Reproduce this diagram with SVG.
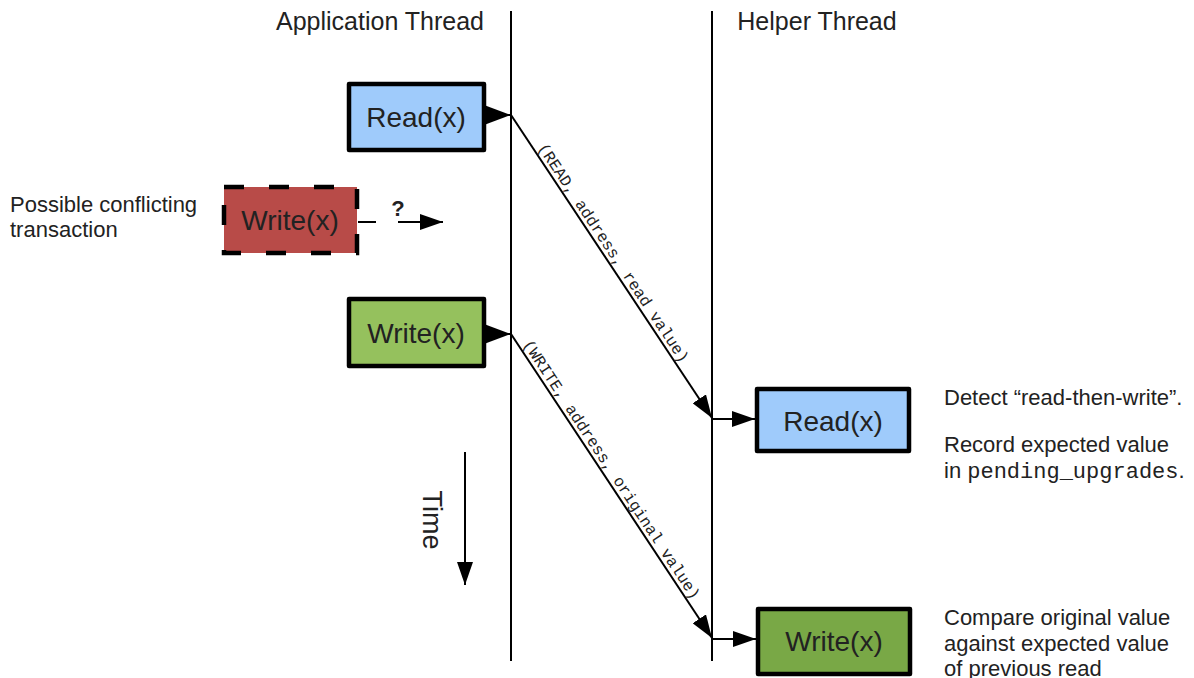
<svg xmlns="http://www.w3.org/2000/svg" width="1194" height="678" viewBox="0 0 1194 678">
  <style>
    .box { stroke: #000; stroke-width: 4.5; stroke-linejoin: round; }
    .read { fill: #9fcbfb; }
    .write { fill: #95c15d; }
    .write2 { fill: #79a846; }
    .conflict { fill: #b84b48; stroke: #000; stroke-width: 4.5; stroke-dasharray: 20 25; }
    .lbl { font-family: "Liberation Sans", Arial, sans-serif; fill: #222; }
    .boxlbl { font-size: 28px; text-anchor: middle; }
    .head { font-size: 25px; text-anchor: middle; }
    .note { font-size: 22px; }
    .mono { font-family: "Liberation Mono", "Courier New", monospace; }
    .msg { font-family: "Liberation Mono", "Courier New", monospace; font-size: 16px; fill: #222; }
    .wire { stroke: #000; stroke-width: 2; fill: none; }
  </style>
  <defs>
    <marker id="bigHead" markerUnits="userSpaceOnUse" markerWidth="27" markerHeight="20" refX="27" refY="10" orient="auto">
      <path d="M0,0 L27,10 L0,20 z" fill="#000"/>
    </marker>
    <marker id="head" markerUnits="userSpaceOnUse" markerWidth="23" markerHeight="16" refX="23" refY="8" orient="auto">
      <path d="M0,0 L23,8 L0,16 z" fill="#000"/>
    </marker>
  </defs>

  <rect width="1194" height="678" fill="#fff"/>

  <!-- thread timelines -->
  <g id="timelines">
    <line class="wire" x1="511" y1="11" x2="511" y2="661"/>
    <line class="wire" x1="712" y1="11" x2="712" y2="661"/>
    <text class="lbl head" x="380" y="30">Application Thread</text>
    <text class="lbl head" x="817" y="30">Helper Thread</text>
  </g>

  <!-- connectors -->
  <g id="connectors">
    <path class="wire" d="M484,115 L511,115" marker-end="url(#bigHead)"/>
    <path class="wire" d="M484,334 L511,334" marker-end="url(#bigHead)"/>
    <path class="wire" d="M511,115 L712,418" marker-end="url(#head)"/>
    <path class="wire" d="M511,334 L712,638" marker-end="url(#head)"/>
    <path class="wire" d="M712,419 L755,419" marker-end="url(#head)"/>
    <path class="wire" d="M712,639 L756,639" marker-end="url(#head)"/>
    <path class="wire" d="M358,222 L376,222"/>
    <path class="wire" d="M398,222 L443,222" marker-end="url(#head)"/>
    <path class="wire" d="M465,452 L465,585" marker-end="url(#head)"/>
    <text class="msg" transform="translate(511,115) rotate(56.44)" x="42" y="-4">(READ, address, read value)</text>
    <text class="msg" transform="translate(511,334) rotate(56.53)" x="15" y="-4">(WRITE, address, original value)</text>
    <text class="lbl" x="398" y="216" font-size="22" font-weight="bold" text-anchor="middle">?</text>
  </g>

  <!-- application thread operations -->
  <g id="app-read">
    <rect class="box read" x="349" y="84" width="135" height="66"/>
    <text class="lbl boxlbl" x="416" y="127">Read(x)</text>
  </g>
  <g id="app-write">
    <rect class="box write" x="349" y="299" width="135" height="67"/>
    <text class="lbl boxlbl" x="416" y="343">Write(x)</text>
  </g>
  <g id="conflicting-write">
    <rect class="conflict" x="224" y="187" width="133" height="66"/>
    <text class="lbl boxlbl" x="290" y="230">Write(x)</text>
  </g>
  <g id="conflict-note">
    <text class="lbl note" x="10" y="212">Possible conflicting</text>
    <text class="lbl note" x="10" y="237">transaction</text>
  </g>
  <g id="time-axis">
    <text class="lbl" transform="translate(423,520) rotate(90)" font-size="27" text-anchor="middle">Time</text>
  </g>

  <!-- helper thread operations -->
  <g id="helper-read">
    <rect class="box read" x="757" y="389" width="152" height="62"/>
    <text class="lbl boxlbl" x="833" y="431">Read(x)</text>
  </g>
  <g id="helper-write">
    <rect class="box write2" x="758" y="609" width="152" height="65"/>
    <text class="lbl boxlbl" x="834" y="651">Write(x)</text>
  </g>
  <g id="read-note">
    <text class="lbl note" x="944" y="405">Detect “read-then-write”.</text>
    <text class="lbl note" x="944" y="452">Record expected value</text>
    <text class="lbl note" x="944" y="478">in <tspan class="mono">pending_upgrades</tspan>.</text>
  </g>
  <g id="write-note">
    <text class="lbl note" x="944" y="625">Compare original value</text>
    <text class="lbl note" x="944" y="651">against expected value</text>
    <text class="lbl note" x="944" y="676">of previous read</text>
  </g>
</svg>
